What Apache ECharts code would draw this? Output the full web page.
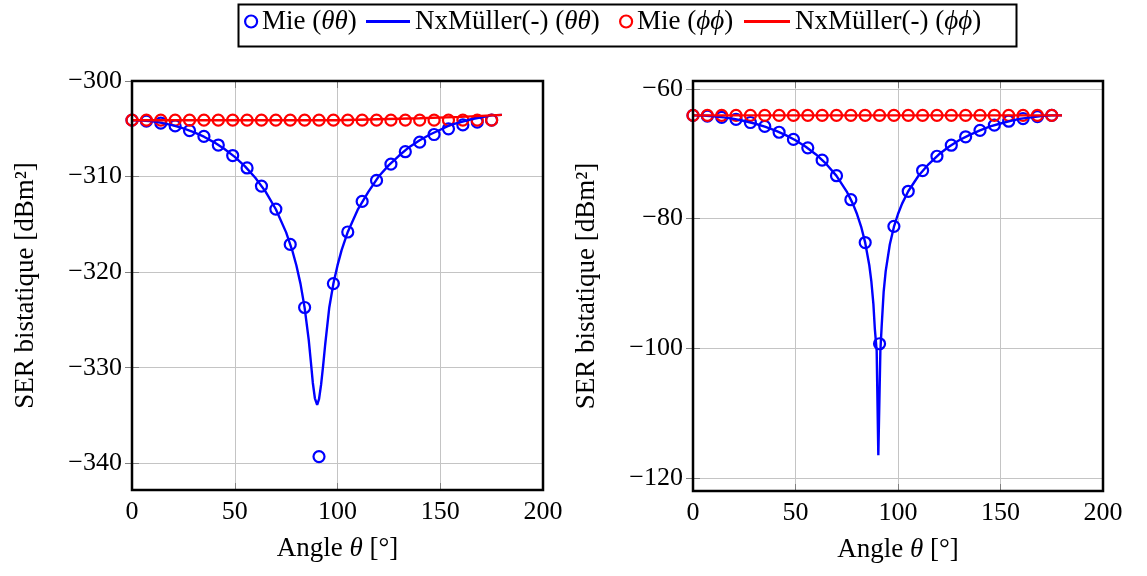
<!DOCTYPE html>
<html>
<head>
<meta charset="utf-8">
<script src="https://cdn.jsdelivr.net/npm/echarts@6/dist/echarts.min.js"></script>
<style>html,body{margin:0;padding:0;background:#fff}#c{width:1147px;height:576px}</style>
</head>
<body>
<div id="c"></div>
<script>
// ---------- data ----------
const mieAngles = [0,7,14,21,28,35,42,49,56,63,70,77,84,91,98,105,112,119,126,133,140,147,154,161,168,175];
const mieThetaLeft = [-304.1,-304.2,-304.4,-304.7,-305.2,-305.8,-306.7,-307.8,-309.1,-311.0,-313.4,-317.1,-323.7,-339.3,-321.2,-315.8,-312.6,-310.4,-308.7,-307.4,-306.4,-305.6,-305.0,-304.6,-304.3,-304.1];
const miePhiLeft = [-304.1,-304.1,-304.1,-304.1,-304.1,-304.1,-304.1,-304.1,-304.1,-304.1,-304.1,-304.1,-304.1,-304.1,-304.1,-304.1,-304.1,-304.1,-304.1,-304.1,-304.1,-304.1,-304.1,-304.1,-304.1,-304.1];
const mieThetaRight = [-64.1,-64.2,-64.4,-64.7,-65.2,-65.8,-66.7,-67.8,-69.1,-71.0,-73.4,-77.1,-83.7,-99.3,-81.2,-75.8,-72.6,-70.4,-68.7,-67.4,-66.4,-65.6,-65.0,-64.6,-64.3,-64.1];
const miePhiRight = [-64.1,-64.1,-64.1,-64.1,-64.1,-64.1,-64.1,-64.1,-64.1,-64.1,-64.1,-64.1,-64.1,-64.1,-64.1,-64.1,-64.1,-64.1,-64.1,-64.1,-64.1,-64.1,-64.1,-64.1,-64.1,-64.1];

const nxThetaLeftAngles = [0,5,10,15,20,25,30,35,40,45,50,55,60,65,70,75,78,80,82,84,86,87,88,89,90.1,91,92,93,94,96,98,100,102,105,110,115,120,125,130,135,140,145,150,155,160,165,170,175,180];
const nxThetaLeft = [-304.1,-304.13,-304.23,-304.4,-304.64,-304.96,-305.35,-305.83,-306.42,-307.11,-307.94,-308.93,-310.12,-311.58,-313.42,-315.84,-317.74,-319.31,-321.23,-323.72,-327.1,-329.3,-331.6,-333.2,-333.9,-333.3,-331.8,-329.8,-327.6,-323.7,-321.2,-319.3,-317.7,-315.8,-313.4,-311.6,-310.0,-308.8,-307.8,-306.9,-306.2,-305.6,-305.1,-304.6,-304.3,-304.0,-303.8,-303.6,-303.55];
const nxPhiLeftAngles = [0,20,40,60,80,100,120,140,160,170,180];
const nxPhiLeft = [-304.1,-304.1,-304.1,-304.1,-304.1,-304.1,-304.0,-303.9,-303.75,-303.65,-303.55];

const nxThetaRightAngles = [0,5,10,15,20,25,30,35,40,45,50,55,60,65,70,75,78,80,82,84,86,87,88,88.7,89.6,90.4,91.4,92,93,94,96,98,100,102,105,110,115,120,125,130,135,140,145,150,155,160,165,170,175,180];
const nxThetaRight = [-64.1,-64.13,-64.23,-64.4,-64.64,-64.96,-65.35,-65.83,-66.42,-67.11,-67.94,-68.93,-70.12,-71.58,-73.42,-75.84,-77.74,-79.31,-81.23,-83.72,-87.2,-89.7,-93.2,-97.0,-100.4,-116.5,-100.4,-96.8,-91.3,-88.1,-84.0,-81.3,-79.3,-77.7,-75.8,-73.4,-71.6,-70.1,-68.9,-67.9,-67.1,-66.4,-65.8,-65.35,-64.95,-64.6,-64.4,-64.2,-64.1,-64.1];
const nxPhiRightAngles = [0,45,90,135,180];
const nxPhiRight = [-64.1,-64.1,-64.1,-64.1,-64.1];

const xTicks = [0,50,100,150,200];
const yTicksLeft = [-340,-330,-320,-310,-300];
const yTicksRight = [-120,-100,-80,-60];

// ---------- helpers ----------
const pairs = (xs, ys) => xs.map((x, i) => [x, ys[i]]);
const FONT = 'Liberation Serif';
const BLUE = '#0000ff', RED = '#ff0000';
const fmt = v => (v < 0 ? '\u2212' + Math.abs(v) : String(v));
const gridLineStyle = {color: '#c4c4c4', width: 1};
const tickStyle = {color: '#808080', width: 1};

function xAxes(gi) {
  return [
    {type: 'value', gridIndex: gi, min: 0, max: 200, interval: 50, position: 'bottom',
     axisLine: {show: false}, axisTick: {inside: true, length: 7, lineStyle: tickStyle, customValues: xTicks},
     axisLabel: {fontFamily: FONT, fontSize: 26, color: '#000', margin: 9, formatter: fmt, customValues: xTicks},
     splitLine: {show: true, lineStyle: gridLineStyle},
     name: 'Angle {i|\u03b8} [\u00b0]', nameLocation: 'middle', nameGap: 45,
     nameTextStyle: {fontFamily: FONT, fontSize: 27, color: '#000',
       rich: {i: {fontFamily: FONT, fontSize: 27, fontStyle: 'italic', color: '#000'}}}},
    {type: 'value', gridIndex: gi, min: 0, max: 200, interval: 50, position: 'top',
     axisLine: {show: false}, axisTick: {inside: true, length: 7, lineStyle: tickStyle},
     axisLabel: {show: false}, splitLine: {show: false}}
  ];
}
function yAxes(gi, mn, mx, ticks) {
  return [
    {type: 'value', gridIndex: gi, min: mn, max: mx, position: 'left',
     axisLine: {show: false},
     axisTick: {inside: true, length: 7, lineStyle: tickStyle, customValues: ticks},
     axisLabel: {fontFamily: FONT, fontSize: 26, color: '#000', margin: 10, formatter: fmt, customValues: ticks},
     splitLine: {show: true, lineStyle: gridLineStyle},
     name: 'SER bistatique [dBm\u00b2]', nameLocation: 'middle', nameGap: 93,
     nameTextStyle: {fontFamily: FONT, fontSize: 27, color: '#000'}},
    {type: 'value', gridIndex: gi, min: mn, max: mx, position: 'right',
     axisLine: {show: false},
     axisTick: {inside: true, length: 7, lineStyle: tickStyle, customValues: ticks},
     axisLabel: {show: false, customValues: ticks}, splitLine: {show: false}}
  ];
}
function seriesFor(gi, mieT, mieP, nxTA, nxT, nxPA, nxP) {
  const xi = gi * 2, yi = gi * 2;
  const mk = (name, color, data) => ({type: 'scatter', name, xAxisIndex: xi, yAxisIndex: yi,
    data, symbol: 'circle', symbolSize: 11, silent: true,
    itemStyle: {color: 'rgba(0,0,0,0)', borderColor: color, borderWidth: 2.2, opacity: 1}});
  const ln = (name, color, data) => ({type: 'line', name, xAxisIndex: xi, yAxisIndex: yi,
    data, symbol: 'none', showSymbol: false, silent: true, animation: false,
    lineStyle: {color, width: 2.4}, itemStyle: {color}});
  return [
    mk('Mie (\u03b8\u03b8)', BLUE, pairs(mieAngles, mieT)),
    ln('NxM\u00fcller(-) (\u03b8\u03b8)', BLUE, pairs(nxTA, nxT)),
    mk('Mie (\u03d5\u03d5)', RED, pairs(mieAngles, mieP)),
    ln('NxM\u00fcller(-) (\u03d5\u03d5)', RED, pairs(nxPA, nxP))
  ];
}
const legendText = {fontFamily: FONT, fontSize: 27, color: '#000',
  rich: {i: {fontFamily: FONT, fontSize: 27, fontStyle: 'italic', color: '#000'}}};
const legendFmt = name => name.replace(/\((\u03b8\u03b8|\u03d5\u03d5)\)/, '({i|$1})');
function legend(left, name, iw, ih, item) {
  return {left, top: 8, padding: 0, itemWidth: iw, itemHeight: ih, itemGap: 0,
    data: [Object.assign({name}, item)], formatter: legendFmt, textStyle: legendText, selectedMode: false};
}

const chart = echarts.init(document.getElementById('c'), null, {renderer: 'canvas'});
chart.setOption({
  animation: false,
  backgroundColor: '#fff',
  graphic: [{type: 'rect', left: 236, top: 2, shape: {width: 778, height: 42},
    style: {fill: 'none', stroke: '#000', lineWidth: 2}, z: 100}],
  legend: [
    legend(244, 'Mie (\u03b8\u03b8)', 12, 12, {icon: 'circle', itemStyle: {color: 'rgba(0,0,0,0)', borderColor: BLUE, borderWidth: 2.2, opacity: 1}}),
    legend(366, 'NxM\u00fcller(-) (\u03b8\u03b8)', 44, 3, {icon: 'rect', itemStyle: {color: BLUE, borderWidth: 0}}),
    legend(619, 'Mie (\u03d5\u03d5)', 12, 12, {icon: 'circle', itemStyle: {color: 'rgba(0,0,0,0)', borderColor: RED, borderWidth: 2.2, opacity: 1}}),
    legend(744, 'NxM\u00fcller(-) (\u03d5\u03d5)', 46, 3, {icon: 'rect', itemStyle: {color: RED, borderWidth: 0}})
  ],
  grid: [
    {left: 132, top: 81, width: 411, height: 409, show: true, borderColor: '#000', borderWidth: 2.5, backgroundColor: 'rgba(0,0,0,0)', z: 10},
    {left: 693, top: 81, width: 410, height: 410, show: true, borderColor: '#000', borderWidth: 2.5, backgroundColor: 'rgba(0,0,0,0)', z: 10}
  ],
  xAxis: [...xAxes(0), ...xAxes(1)],
  yAxis: [...yAxes(0, -342.8, -300, yTicksLeft), ...yAxes(1, -122.0, -58.8, yTicksRight)],
  series: [
    ...seriesFor(0, mieThetaLeft, miePhiLeft, nxThetaLeftAngles, nxThetaLeft, nxPhiLeftAngles, nxPhiLeft),
    ...seriesFor(1, mieThetaRight, miePhiRight, nxThetaRightAngles, nxThetaRight, nxPhiRightAngles, nxPhiRight)
  ]
});
</script>
</body>
</html>
